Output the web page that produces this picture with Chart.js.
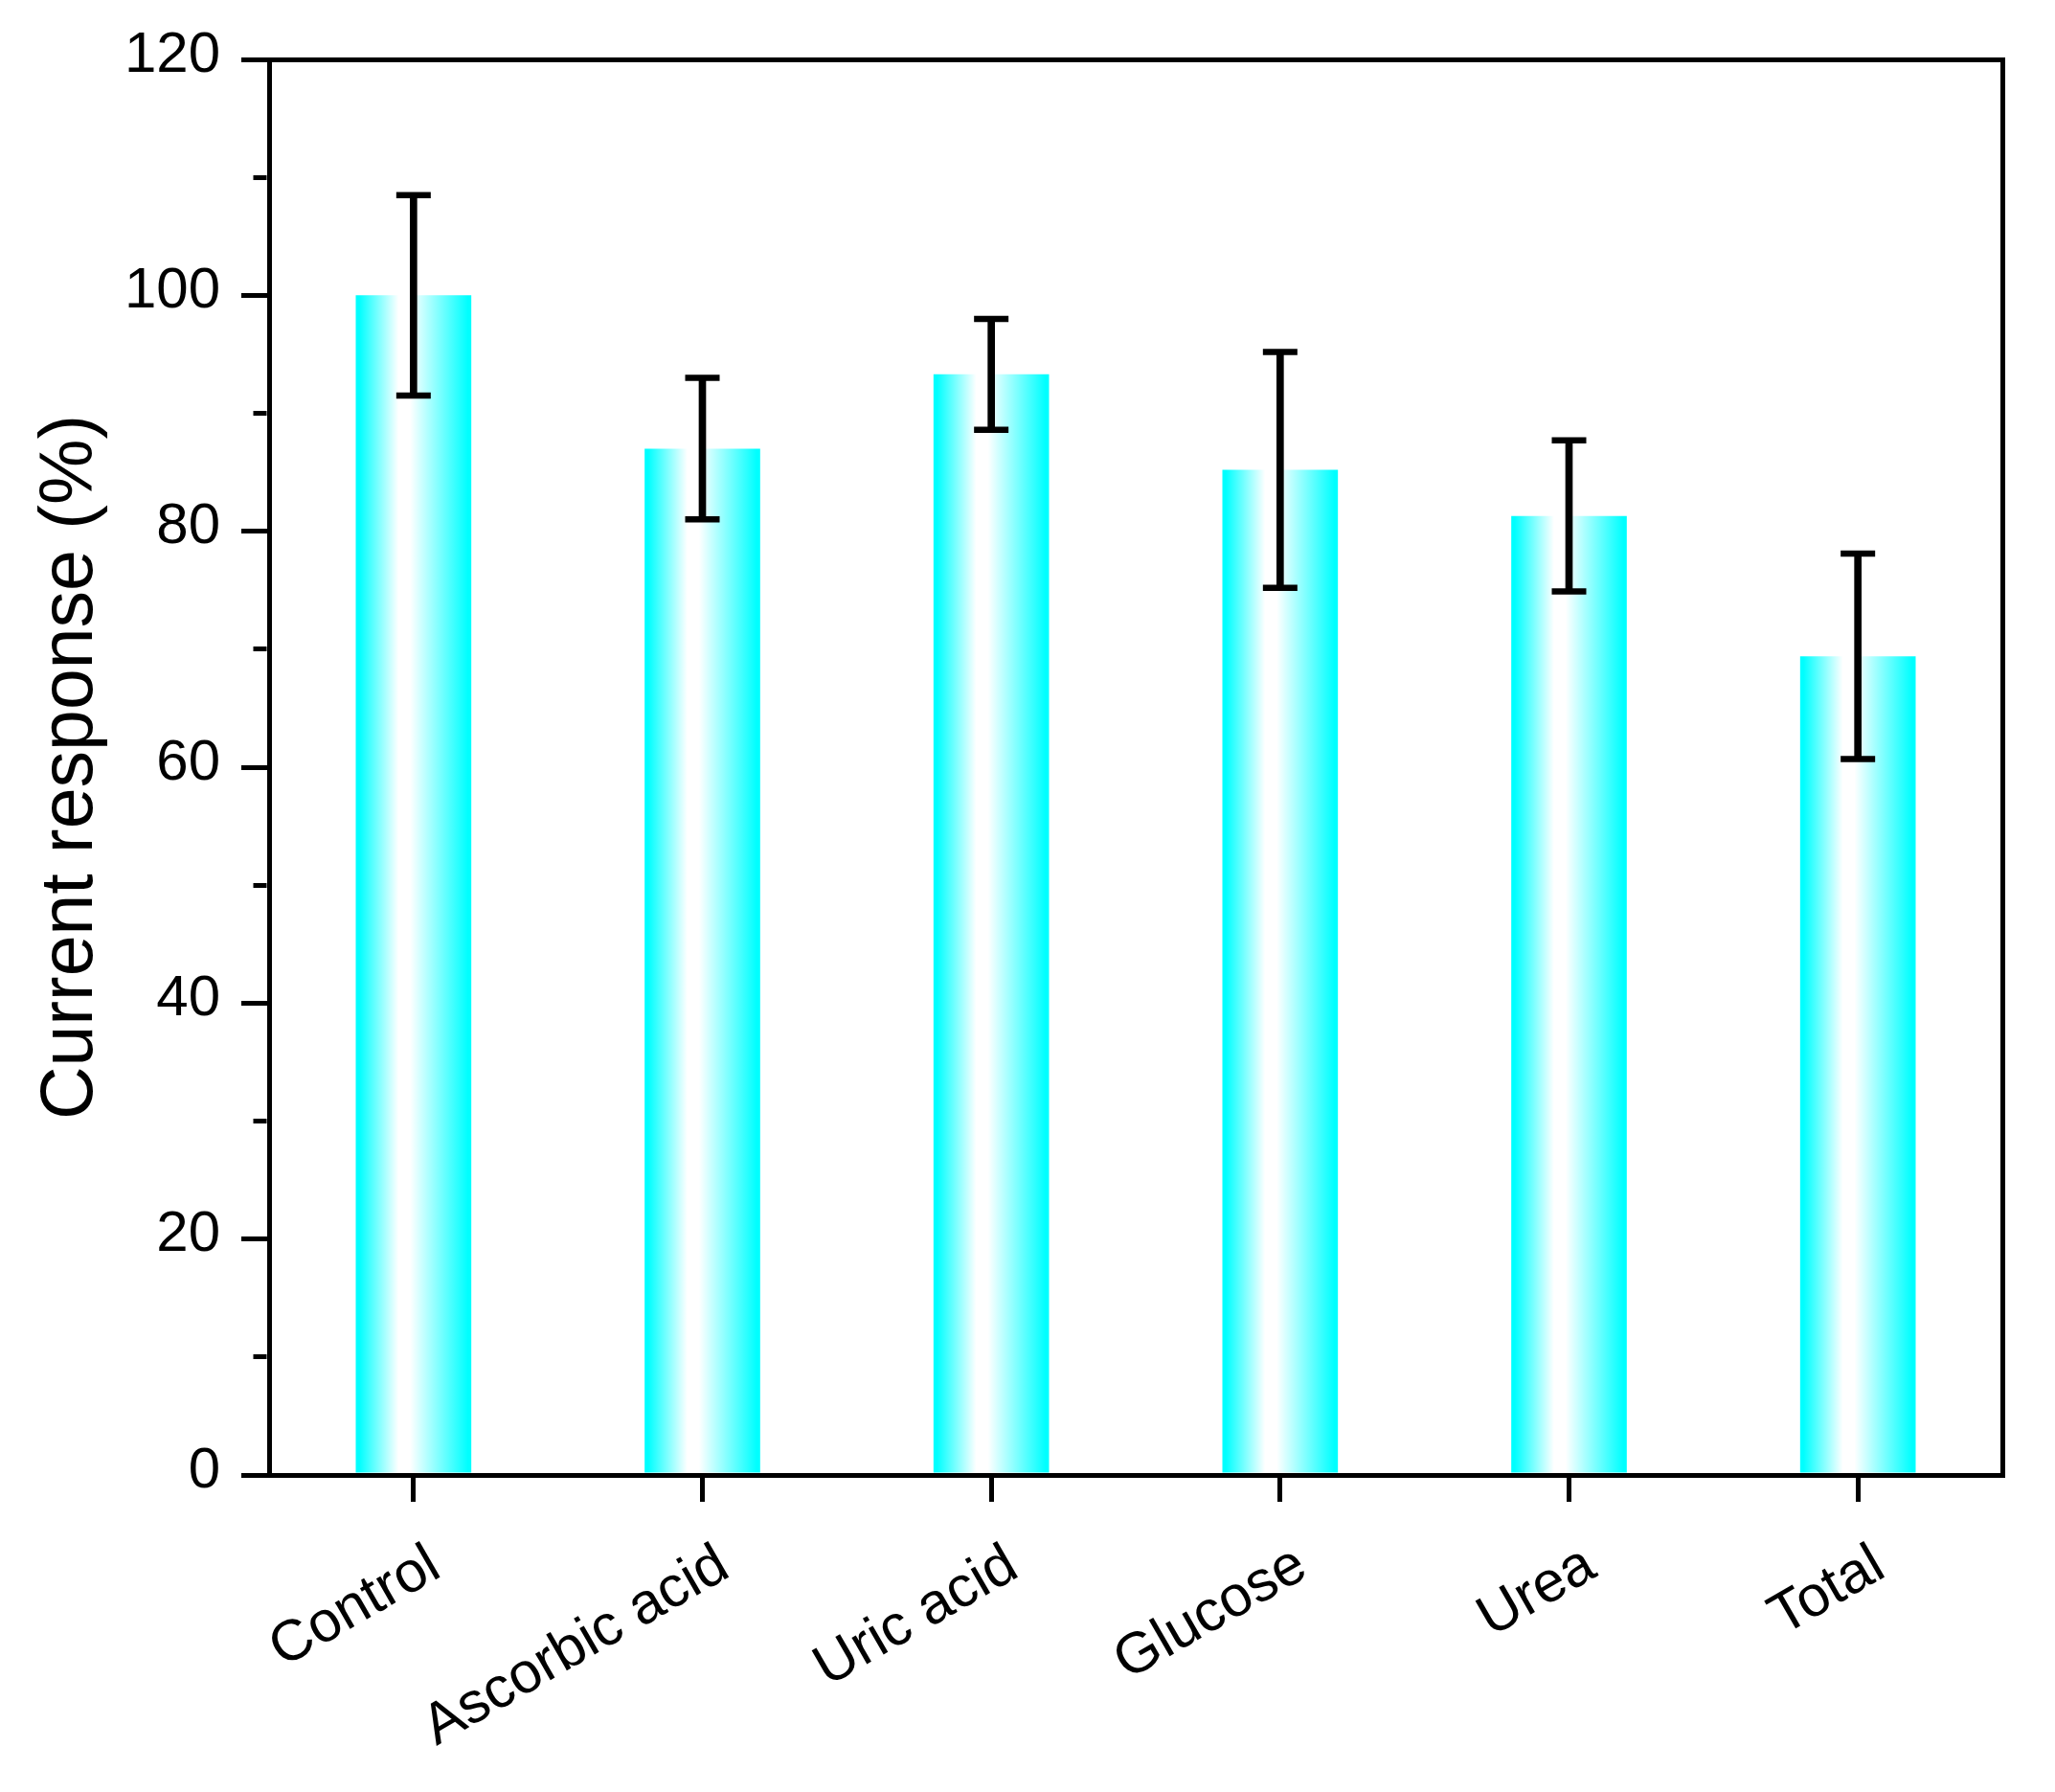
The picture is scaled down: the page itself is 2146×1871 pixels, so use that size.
<!DOCTYPE html>
<html><head><meta charset="utf-8">
<script src="https://cdn.jsdelivr.net/npm/chart.js@4.4.1/dist/chart.umd.min.js"></script>
<style>html,body{margin:0;padding:0;background:#fff;} #wrap{width:2146px;height:1871px;position:relative;}</style>
</head><body><div id="wrap"><canvas id="c"></canvas></div>
<script>
// ---- data ----
const categories = ['Control', 'Ascorbic acid', 'Uric acid', 'Glucose', 'Urea', 'Total'];
const responses  = [100, 87.0, 93.3, 85.2, 81.3, 69.4];
const errors     = [8.5, 6.0, 4.7, 10.0, 6.4, 8.7];
const yTickLabels = [0, 20, 40, 60, 80, 100, 120];
const yTitle = 'Current response (%)';

const FONT = "'Liberation Sans', Arial, sans-serif";
const stems = responses.map((v, i) => [v - errors[i], v + errors[i]]);
const upper = responses.map((v, i) => v + errors[i]);
const lower = responses.map((v, i) => v - errors[i]);

function barGradient(c) {
  const chart = c.chart, area = chart.chartArea, xs = chart.scales.x;
  if (!area || !xs) return '#00FFFF';
  const w = (xs.width / categories.length) * 0.4;
  const xc = xs.getPixelForValue(c.dataIndex);
  const g = chart.ctx.createLinearGradient(xc - w / 2, 0, xc + w / 2, 0);
  g.addColorStop(0, '#00FFFF');
  g.addColorStop(0.03, '#00FFFF');
  g.addColorStop(0.37, '#FFFFFF');
  g.addColorStop(0.47, '#FFFFFF');
  g.addColorStop(0.97, '#00FFFF');
  g.addColorStop(1, '#00FFFF');
  return g;
}

const capStyle = {
  type: 'line', showLine: false, pointStyle: 'line', pointRadius: 18, pointHoverRadius: 18,
  pointBorderWidth: 6.5, pointBorderColor: '#000', borderColor: '#000', order: 1
};

new Chart(document.getElementById('c'), {
  type: 'bar',
  data: {
    labels: categories,
    datasets: [
      { data: responses, backgroundColor: barGradient, borderWidth: 0, barPercentage: 0.4,
        categoryPercentage: 1.0, grouped: false, order: 3 },
      { data: stems, backgroundColor: '#000', borderWidth: 0, barThickness: 7, grouped: false, order: 2 },
      Object.assign({ data: upper }, capStyle),
      Object.assign({ data: lower }, capStyle)
    ]
  },
  options: {
    responsive: true, maintainAspectRatio: false, animation: false,
    layout: { padding: 0 },
    plugins: { legend: { display: false }, tooltip: { enabled: false } },
    scales: {
      x: {
        position: 'bottom', offset: true,
        grid: { display: true, drawOnChartArea: false, offset: false, drawTicks: true,
                tickLength: 28, tickWidth: 5, lineWidth: 5, tickColor: '#000', color: '#000' },
        border: { display: true, color: '#000', width: 5 },
        ticks: { autoSkip: false, maxRotation: 30, minRotation: 30, padding: 31, labelOffset: 23,
                 color: '#000', font: { family: FONT, size: 60 } },
        afterFit: s => { s.height = 331; }
      },
      x2: {
        type: 'category', labels: categories, position: 'top',
        grid: { display: false }, ticks: { display: false },
        border: { display: true, color: '#000', width: 5 },
        afterFit: s => { s.height = 62; }
      },
      y: {
        position: 'left', min: 0, max: 120,
        grid: { display: true, drawOnChartArea: false, drawTicks: true, tickLength: 29,
                tickWidth: 5, lineWidth: 5, tickColor: '#000', color: '#000',
                tickBorderDash: c => (yTickLabels.includes(c.tick && c.tick.value) ? [] : [0, 12.5, 14, 200]) },
        border: { display: true, color: '#000', width: 5 },
        ticks: { stepSize: 10, padding: 22, labelOffset: -4, color: '#000',
                 font: { family: FONT, size: 60 },
                 callback: v => (yTickLabels.includes(v) ? String(v) : '') },
        title: { display: true, text: yTitle, color: '#000', font: { family: FONT, size: 77 },
                 padding: { top: 29, bottom: 0 } },
        afterFit: s => { s.width = 281; }
      },
      y2: {
        type: 'linear', position: 'right', min: 0, max: 120,
        grid: { display: false }, ticks: { display: false },
        border: { display: true, color: '#000', width: 5 },
        afterFit: s => { s.width = 55; }
      }
    }
  }
});
</script>
</body></html>
